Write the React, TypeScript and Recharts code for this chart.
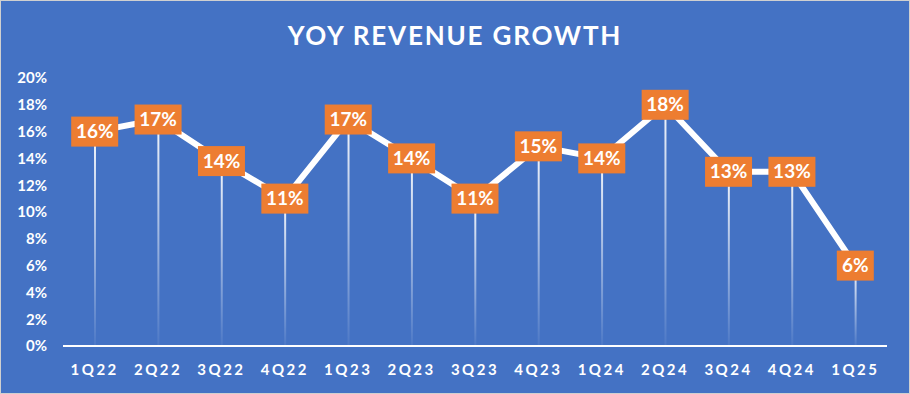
import React from 'react';
import { ComposedChart, Line, Bar, XAxis, YAxis, LabelList } from 'recharts';

const quarters = ['1Q22', '2Q22', '3Q22', '4Q22', '1Q23', '2Q23', '3Q23', '4Q23', '1Q24', '2Q24', '3Q24', '4Q24', '1Q25'];
const growth = [16.0, 16.9, 13.8, 11.0, 16.9, 14.0, 11.0, 14.9, 14.0, 18.0, 13.0, 13.0, 6.0];
const yTicks = [0, 2, 4, 6, 8, 10, 12, 14, 16, 18, 20];

const data = quarters.map((q, i) => ({ q, value: growth[i] }));

const BLUE = '#4472C4';
const ORANGE = '#ED7D31';
const FONT = 'Lato, "Open Sans", sans-serif';

const PointLabel = (props: any) => {
  const { x, y, value } = props;
  const text = `${Math.round(value)}%`;
  const w = text.length > 2 ? 47 : 37;
  const h = 30;
  return (
    <g>
      <rect x={x - w / 2} y={y - h / 2} width={w} height={h} fill={ORANGE} />
      <text
        x={x}
        y={y + 6.5}
        textAnchor="middle"
        fill="#fff"
        fontSize={19}
        fontWeight={700}
        fontFamily={FONT}
      >
        {text}
      </text>
    </g>
  );
};

export default function App() {
  return (
    <div
      style={{
        position: 'fixed',
        left: 0,
        top: 0,
        width: 908,
        height: 392,
        background: BLUE,
        border: '1px solid #d0d0d0',
      }}
    >
      <div
        style={{
          position: 'absolute',
          top: 18,
          left: 0,
          width: '100%',
          textAlign: 'center',
          color: '#fff',
          fontFamily: FONT,
          fontWeight: 700,
          fontSize: 26,
          letterSpacing: 1.8,
        }}
      >
        YOY REVENUE GROWTH
      </div>
      <ComposedChart
        width={908}
        height={392}
        data={data}
        margin={{ top: 77, right: 22, bottom: 17, left: 12 }}
      >
        <defs>
          <linearGradient id="dropFade" x1="0" y1="0" x2="0" y2="1">
            <stop offset="0%" stopColor="#fff" stopOpacity={0.95} />
            <stop offset="100%" stopColor="#fff" stopOpacity={0.05} />
          </linearGradient>
        </defs>
        <XAxis
          dataKey="q"
          axisLine={{ stroke: '#fff', strokeWidth: 2 }}
          tickLine={false}
          tickMargin={12}
          height={30}
          tick={{ fill: '#fff', fontSize: 15, fontWeight: 700, fontFamily: FONT, letterSpacing: 2.5 }}
        />
        <YAxis
          domain={[0, 20]}
          ticks={yTicks}
          width={50}
          axisLine={false}
          tickLine={false}
          tickMargin={10}
          tickFormatter={(v: number) => `${v}%`}
          tick={{ fill: '#fff', fontSize: 15, fontWeight: 700, fontFamily: FONT }}
        />
        <Bar dataKey="value" barSize={2} fill="url(#dropFade)" isAnimationActive={false} />
        <Line
          dataKey="value"
          stroke="#fff"
          strokeWidth={6}
          dot={false}
          activeDot={false}
          isAnimationActive={false}
        >
          <LabelList dataKey="value" content={PointLabel} />
        </Line>
      </ComposedChart>
    </div>
  );
}
